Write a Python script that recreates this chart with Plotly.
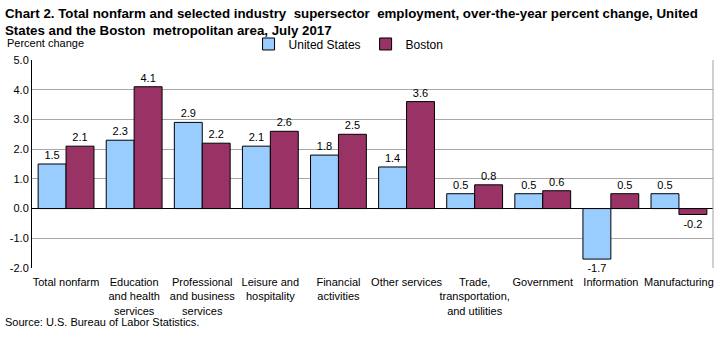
import plotly.graph_objects as go

categories = ["Total nonfarm", "Education<br>and health<br>services", "Professional<br>and business<br>services",
              "Leisure and<br>hospitality", "Financial<br>activities", "Other services",
              "Trade,<br>transportation,<br>and utilities", "Government", "Information", "Manufacturing"]
us_values = [1.5, 2.3, 2.9, 2.1, 1.8, 1.4, 0.5, 0.5, -1.7, 0.5]
boston_values = [2.1, 4.1, 2.2, 2.6, 2.5, 3.6, 0.8, 0.6, 0.5, -0.2]
y_ticks = [5.0, 4.0, 3.0, 2.0, 1.0, 0.0, -1.0, -2.0]

font = "Liberation Sans, Arial, sans-serif"

fig = go.Figure()
fig.add_trace(go.Bar(x=categories, y=us_values, name="United States",
                     marker=dict(color="#99CCFF", line=dict(color="black", width=1)),
                     text=[f"{v:.1f}" for v in us_values], textposition="outside",
                     textfont=dict(size=11, color="black", family=font), cliponaxis=False))
fig.add_trace(go.Bar(x=categories, y=boston_values, name="Boston",
                     marker=dict(color="#993366", line=dict(color="black", width=1)),
                     text=[f"{v:.1f}" for v in boston_values], textposition="outside",
                     textfont=dict(size=11, color="black", family=font), cliponaxis=False))

fig.update_layout(
    width=720, height=340,
    margin=dict(l=32, r=7, t=60, b=72),
    paper_bgcolor="white", plot_bgcolor="white",
    font=dict(family=font, size=11, color="black"),
    barmode="group", bargap=0.18, bargroupgap=0,
    showlegend=True,
    legend=dict(orientation="h", x=0.318, y=1.077, xanchor="left", yanchor="middle",
                font=dict(size=12), bgcolor="rgba(255,255,255,0)",
                traceorder="normal"),
    xaxis=dict(showline=False, ticks="", tickangle=0, tickfont=dict(size=11),
               ticklabelstandoff=6),
    yaxis=dict(range=[-2, 5], tickvals=y_ticks, ticktext=[f"{v:.1f}" for v in y_ticks],
               showgrid=True, gridcolor="#A8A8A8", gridwidth=1,
               zeroline=True, zerolinecolor="black", zerolinewidth=1,
               showline=True, linecolor="black", linewidth=1, ticks="",
               tickfont=dict(size=11)),
)
fig.add_shape(type="line", xref="paper", yref="paper", x0=1, x1=1, y0=0, y1=1,
              line=dict(color="#A0A0A0", width=1))
fig.add_annotation(text="<b>Chart 2. Total nonfarm and selected industry  supersector  employment, over-the-year percent change, United<br>States and the Boston  metropolitan area, July 2017</b>",
                   xref="paper", yref="paper", x=-0.042, y=1.0, yanchor="bottom", xanchor="left",
                   yshift=20, align="left", showarrow=False, font=dict(size=13.3, family=font))
fig.add_annotation(text="Percent change", xref="paper", yref="paper", x=-0.04, y=1.0,
                   xanchor="left", yanchor="bottom", yshift=9, showarrow=False, font=dict(size=11))
fig.add_annotation(text="Source: U.S. Bureau of Labor Statistics.", xref="paper", yref="paper",
                   x=-0.042, y=0, xanchor="left", yanchor="top", yshift=-46, showarrow=False,
                   font=dict(size=11))

fig.write_html("out.html")
